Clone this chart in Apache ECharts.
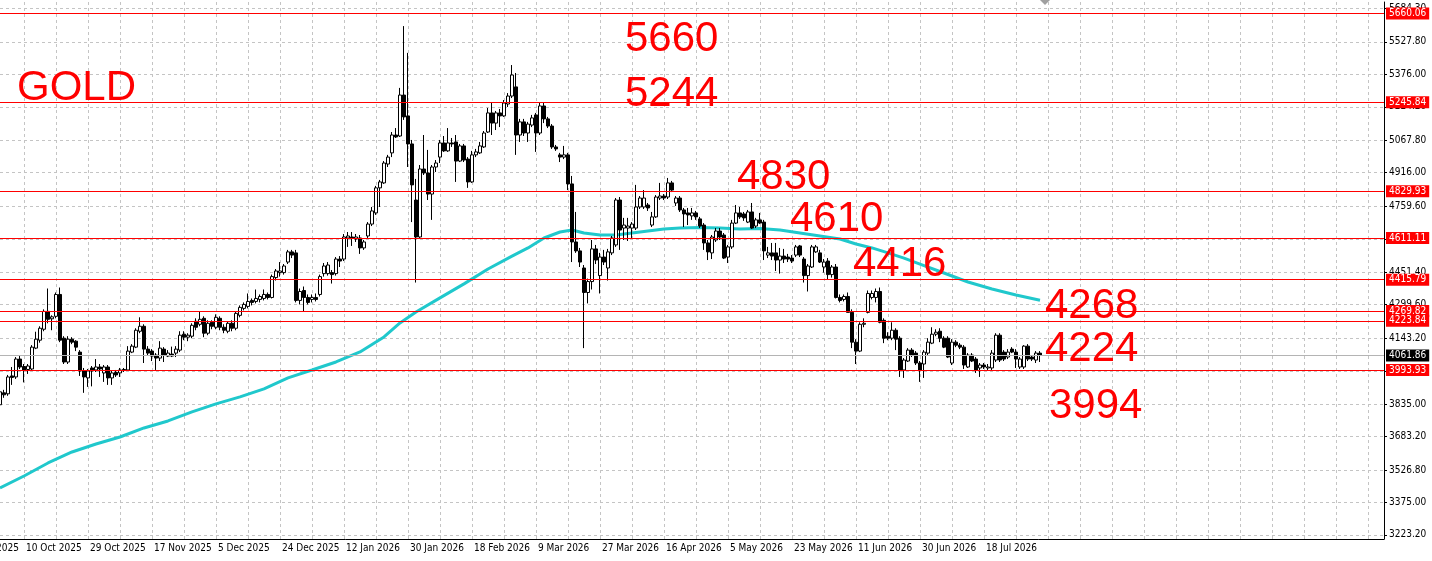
<!DOCTYPE html>
<html>
<head>
<meta charset="utf-8">
<script src="https://cdn.jsdelivr.net/npm/echarts@6/dist/echarts.min.js"></script>
<style>
html,body{margin:0;padding:0;background:#fff;}
#chart{width:1432px;height:561px;}
</style>
</head>
<body>
<div id="chart"></div>
<script>
// ---- data (daily bars, index 0 = first visible bar) ----
const opens = [
3831.5,3887.2,3882.6,3966.2,3961.5,4045.1,4010.3,3996.4,3998.7,4096.2,
4133.3,4184.4,4268.0,4233.2,4244.8,4347.0,4142.6,4031.2,4138.0,4128.7,
4077.6,3989.4,3956.9,4003.4,3994.0,4008.0,3980.1,4008.0,3956.9,3982.4,
3980.1,3996.4,3994.0,4077.6,4100.8,4175.1,4198.3,4091.5,4082.3,4063.7,
4049.7,4091.5,4059.0,4068.3,4072.9,4086.9,4161.2,4147.3,4151.9,4221.6,
4207.6,4235.5,4165.9,4216.9,4193.7,4235.5,4193.7,4175.1,4212.3,4189.1,
4249.4,4281.9,4291.2,4319.1,4314.4,4323.7,4328.4,4347.0,4333.0,4425.9,
4449.1,4449.1,4498.5,4546.0,4541.3,4319.1,4365.5,4333.0,4323.7,4333.0,
4347.0,4444.4,4444.4,4449.1,4444.4,4512.5,4512.5,4611.0,4615.6,4606.3,
4611.0,4564.5,4620.3,4676.0,4728.1,4845.2,4868.4,4956.6,5008.7,5092.3,
5087.6,5279.0,5181.5,5050.5,4788.4,4615.6,4933.4,4914.8,4816.3,4942.7,
4989.1,5055.1,5018.0,5055.1,5059.8,4970.5,5041.2,4979.8,4873.0,4999.4,
5008.7,5036.5,5106.2,5195.5,5148.0,5195.5,5181.5,5237.2,5274.4,5317.2,
5092.3,5153.6,5101.6,5138.7,5186.2,5101.6,5228.0,5167.6,5134.1,5036.5,
4999.4,4989.1,4999.4,4863.7,4592.4,4550.6,4470.7,4356.2,4407.3,4559.9,
4435.2,4521.8,4470.7,4541.3,4578.4,4788.4,4657.4,4657.4,4657.4,4657.4,
4755.9,4755.9,4765.2,4671.4,4709.5,4797.7,4807.0,4802.4,4868.4,4774.5,
4797.7,4742.0,4728.1,4714.1,4728.1,4700.2,4671.4,4587.8,4541.3,4601.7,
4643.5,4624.9,4521.8,4569.2,4680.6,4728.1,4723.4,4685.3,4732.7,4666.7,
4695.6,4685.3,4531.0,4541.3,4541.3,4507.8,4526.4,4521.8,4517.1,4531.0,
4573.8,4512.5,4435.2,4475.3,4546.0,4541.3,4475.3,4503.2,4439.8,4475.3,
4333.0,4323.7,4337.6,4263.4,4124.1,4082.3,4207.6,4263.4,4333.0,4333.0,
4360.9,4226.2,4151.9,4142.6,4179.8,4142.6,3994.0,4035.8,4086.9,4072.9,
4026.6,4021.9,4072.9,4119.4,4161.2,4175.1,4142.6,4142.6,4026.6,4124.1,
4110.1,4100.8,4008.0,4063.7,4045.1,4003.4,4017.2,4003.4,4003.4,4040.5,
4156.6,4077.6,4054.4,4091.5,4077.6,4008.0,4008.0,4105.5,4054.4,4040.5,
4072.9];
const closes = [
3891.9,3877.9,3961.5,3959.2,4045.1,4008.0,3991.7,4012.6,4100.8,4138.0,
4189.1,4268.0,4230.9,4242.5,4347.0,4133.3,4031.2,4138.0,4124.1,4100.8,
3989.4,3961.5,3989.4,3989.4,4008.0,3998.7,4008.0,3956.9,3980.1,3970.8,
3994.0,3991.7,4082.3,4105.5,4179.8,4198.3,4091.5,4072.9,4059.0,4049.7,
4096.2,4063.7,4072.9,4059.0,4091.5,4156.6,4147.3,4156.6,4202.9,4193.7,
4230.9,4165.9,4212.3,4198.3,4240.2,4193.7,4179.8,4212.3,4189.1,4258.7,
4286.6,4300.5,4314.4,4309.8,4328.4,4337.6,4347.0,4333.0,4430.5,4456.7,
4456.7,4480.0,4546.0,4531.0,4319.1,4360.9,4333.0,4309.8,4333.0,4323.7,
4430.5,4480.0,4484.6,4439.8,4512.5,4503.2,4615.6,4620.3,4611.0,4615.6,
4564.5,4592.4,4676.0,4737.4,4845.2,4873.0,4961.3,4989.1,5092.3,5083.0,
5279.0,5176.9,5050.5,4859.1,4615.6,4933.4,4914.8,4816.3,4942.7,4961.3,
5055.1,5018.0,5055.1,5050.5,4970.5,5041.2,4975.2,4873.0,4999.4,5013.3,
5041.2,5101.6,5195.5,5148.0,5195.5,5181.5,5241.9,5274.4,5372.9,5092.3,
5153.6,5101.6,5143.3,5172.2,5101.6,5228.0,5167.6,5134.1,5036.5,5027.3,
4989.1,4999.4,4863.7,4592.4,4550.6,4498.5,4356.2,4407.3,4559.9,4507.8,
4521.8,4498.5,4546.0,4611.0,4788.4,4648.1,4671.4,4666.7,4676.0,4755.9,
4797.7,4797.7,4751.3,4709.5,4802.4,4807.0,4797.7,4868.4,4834.9,4797.7,
4742.0,4723.4,4718.8,4728.1,4709.5,4666.7,4587.8,4546.0,4615.6,4643.5,
4615.6,4517.1,4569.2,4680.6,4728.1,4709.5,4704.9,4732.7,4657.4,4695.6,
4680.6,4550.6,4541.3,4526.4,4507.8,4526.4,4512.5,4512.5,4503.2,4569.2,
4531.0,4435.2,4480.0,4569.2,4569.2,4498.5,4498.5,4439.8,4475.3,4333.0,
4319.1,4337.6,4263.4,4124.1,4082.3,4207.6,4212.3,4351.6,4351.6,4360.9,
4216.9,4142.6,4142.6,4179.8,4138.0,3994.0,4040.5,4086.9,4063.7,4026.6,
3994.0,4077.6,4124.1,4161.2,4170.5,4142.6,4100.8,4054.4,4124.1,4110.1,
4100.8,4017.2,4063.7,4035.8,3994.0,4017.2,4008.0,4008.0,4072.9,4156.6,
4040.5,4045.1,4077.6,4077.6,4045.1,4045.1,4105.5,4045.1,4045.1,4072.9,
4061.86];
const lows = [
3817.6,3864.0,3873.3,3924.4,3952.2,3998.7,3936.0,3975.5,3989.4,4091.5,
4121.7,4175.1,4212.3,4179.8,4235.5,4124.1,4021.9,4021.9,4114.8,4082.3,
3966.2,3887.2,3915.1,3917.4,3984.7,3961.5,3938.3,3924.4,3924.4,3961.5,
3961.5,3984.7,3989.4,4072.9,4096.2,4165.9,4026.6,4063.7,4035.8,3994.0,
4035.8,4031.2,4054.4,4054.4,4054.4,4077.6,4133.3,4128.7,4142.6,4179.8,
4198.3,4147.3,4156.6,4184.4,4184.4,4179.8,4165.9,4165.9,4175.1,4179.8,
4240.2,4272.6,4281.9,4295.9,4305.2,4309.8,4319.1,4323.7,4328.4,4412.0,
4430.5,4439.8,4489.2,4517.1,4309.8,4300.5,4268.0,4300.5,4309.8,4314.4,
4337.6,4430.5,4435.2,4398.0,4435.2,4475.3,4503.2,4569.2,4573.8,4592.4,
4536.6,4555.3,4611.0,4666.7,4718.8,4755.9,4863.7,4942.7,4989.1,5078.4,
5083.0,5162.9,4942.7,4685.3,4402.7,4611.0,4905.5,4788.4,4695.6,4919.5,
4961.3,5013.3,5013.3,5036.5,4873.0,4965.9,4965.9,4845.2,4868.4,4989.1,
5004.0,5031.9,5101.6,5092.3,5115.5,5129.4,5176.9,5223.3,5265.1,4999.4,
5059.8,5087.6,5059.8,5129.4,5013.3,5092.3,5148.0,5124.8,5027.3,5018.0,
4965.9,4979.8,4834.9,4498.5,4541.3,4475.3,4096.2,4305.2,4370.2,4489.2,
4351.6,4484.6,4412.0,4531.0,4569.2,4555.3,4601.7,4597.0,4611.0,4648.1,
4746.6,4746.6,4737.4,4662.1,4704.9,4788.4,4788.4,4793.1,4825.6,4760.6,
4732.7,4662.1,4671.4,4695.6,4695.6,4657.4,4555.3,4507.8,4512.5,4592.4,
4601.7,4512.5,4493.9,4559.9,4676.0,4700.2,4690.9,4680.6,4652.8,4657.4,
4676.0,4507.8,4517.1,4507.8,4456.7,4444.4,4493.9,4498.5,4493.9,4521.8,
4521.8,4402.7,4360.9,4470.7,4541.3,4493.9,4449.1,4416.6,4425.9,4328.4,
4309.8,4314.4,4263.4,4096.2,4021.9,4077.6,4193.7,4258.7,4323.7,4309.8,
4212.3,4119.4,4133.3,4133.3,4086.9,3961.5,3956.9,4031.2,4054.4,4017.2,
3938.3,3956.9,4063.7,4114.8,4151.9,4124.1,4096.2,4049.7,4017.2,4100.8,
4091.5,3998.7,4003.4,4031.2,3980.1,3961.5,3998.7,3994.0,3994.0,4031.2,
4031.2,4035.8,4045.1,4072.9,4003.4,3998.7,3998.7,4035.8,4035.8,4026.6,
4031.2];
const highs = [
3910.4,3901.2,3970.8,4008.0,4054.4,4059.0,4021.9,4021.9,4110.1,4172.8,
4198.3,4277.3,4374.8,4249.4,4356.2,4379.4,4151.9,4151.9,4147.3,4133.3,
4086.9,4003.4,3998.7,4012.6,4045.1,4021.9,4017.2,4017.2,3989.4,3994.0,
4003.4,4003.4,4105.5,4114.8,4189.1,4240.2,4207.6,4105.5,4091.5,4072.9,
4128.7,4100.8,4086.9,4103.2,4105.5,4175.1,4175.1,4165.9,4212.3,4235.5,
4268.0,4244.8,4226.2,4226.2,4254.1,4244.8,4207.6,4221.6,4226.2,4268.0,
4295.9,4309.8,4351.6,4328.4,4370.2,4347.0,4370.2,4356.2,4439.8,4466.0,
4498.5,4489.2,4555.3,4555.3,4555.3,4374.8,4384.1,4347.0,4347.0,4351.6,
4439.8,4493.9,4498.5,4461.4,4521.8,4526.4,4629.5,4638.9,4638.9,4629.5,
4624.9,4601.7,4685.3,4755.9,4854.5,4882.3,4970.5,4999.4,5106.2,5124.8,
5312.5,5601.4,5476.1,5069.1,4886.9,4952.0,5092.3,5022.6,4952.0,4975.2,
5069.1,5087.6,5124.8,5078.4,5092.3,5050.5,5050.5,4989.1,5018.0,5027.3,
5059.8,5110.9,5218.6,5246.5,5204.7,5214.0,5255.8,5288.3,5419.3,5382.2,
5167.6,5167.6,5153.6,5186.2,5195.5,5241.9,5241.9,5176.9,5143.3,5045.8,
5008.7,5041.2,5008.7,4900.9,4732.7,4564.5,4484.6,4421.2,4601.7,4578.4,
4541.3,4555.3,4559.9,4620.3,4797.7,4802.4,4704.9,4704.9,4685.3,4859.1,
4807.0,4834.9,4774.5,4732.7,4811.6,4868.4,4816.3,4891.6,4877.7,4807.0,
4807.0,4751.3,4751.3,4751.3,4737.4,4709.5,4680.6,4601.7,4624.9,4657.4,
4657.4,4634.2,4578.4,4695.6,4765.2,4755.9,4732.7,4742.0,4774.5,4704.9,
4728.1,4695.6,4569.2,4587.8,4587.8,4564.5,4559.9,4536.6,4531.0,4578.4,
4578.4,4521.8,4489.2,4578.4,4578.4,4555.3,4512.5,4517.1,4484.6,4489.2,
4347.0,4347.0,4356.2,4277.3,4138.0,4216.9,4235.5,4365.5,4365.5,4374.8,
4379.4,4235.5,4170.5,4216.9,4189.1,4151.9,4049.7,4096.2,4096.2,4082.3,
4035.8,4086.9,4142.6,4193.7,4184.4,4189.1,4151.9,4151.9,4138.0,4133.3,
4119.4,4110.1,4072.9,4072.9,4054.4,4026.6,4026.6,4021.9,4086.9,4165.9,
4165.9,4086.9,4091.5,4100.8,4091.5,4054.4,4110.1,4114.8,4063.7,4082.3,
4082.3];

// moving average (cyan) read at sample bars
const maBars = [0,6,12,18,24,30,36,42,48,54,60,66,72,78,84,90,96,100,104,110,116,122,128,132,136,140,143,146,150,154,158,162,166,170,175,180,185,190,195,200,205,210,214,218,222,226,230,236,242,248,254,260];
const maValues = [3442.5,3498.6,3559.4,3610.8,3648.1,3680.9,3723.0,3755.8,3797.9,3835.5,3868.2,3905.6,3956.9,3994.0,4031.4,4078.2,4148.3,4213.7,4265.2,4330.9,4396.5,4466.0,4526.4,4564.5,4611.0,4638.9,4648.1,4634.2,4624.9,4624.9,4634.2,4643.5,4652.8,4657.4,4659.7,4657.4,4652.8,4655.1,4648.1,4634.2,4620.3,4606.3,4583.1,4564.5,4541.3,4517.1,4489.2,4447.3,4405.3,4372.6,4344.3,4320.0];

// horizontal price levels (red) and current bid
const levels = [5660.06, 5245.84, 4829.93, 4611.11, 4415.79, 4269.82, 4223.84, 3993.93];
const bid = 4061.86;

// price scale tick labels
const yTickValues = [3223.2,3375.0,3526.8,3683.2,3835.0,3989.2,4143.2,4299.6,4451.4,4603.6,4759.6,4916.0,5067.8,5224.2,5376.0,5527.8,5684.3];

// time scale: labels every 16 bars, grid every 8 bars
const timeLabelBars = [-10,6,22,38,54,70,86,102,118,134,150,166,182,198,214,230,246];
const timeLabels = ['22 Sep 2025','10 Oct 2025','29 Oct 2025','17 Nov 2025','5 Dec 2025','24 Dec 2025','12 Jan 2026','30 Jan 2026','18 Feb 2026','9 Mar 2026','27 Mar 2026','16 Apr 2026','5 May 2026','23 May 2026','11 Jun 2026','30 Jun 2026','18 Jul 2026'];
const gridBars = [];
for (let b = 6; b <= 342; b += 8) gridBars.push(b);

// chart annotations (text objects)
const notes = [
  {text:'GOLD', x:17, y:67},
  {text:'5660', x:625, y:18},
  {text:'5244', x:625, y:73},
  {text:'4830', x:737, y:156},
  {text:'4610', x:790, y:198},
  {text:'4416', x:853, y:243},
  {text:'4268', x:1045, y:285},
  {text:'4224', x:1045, y:328},
  {text:'3994', x:1049, y:385}
];

// ---- fonts: use a narrow sans for the scales when one is installed ----
function hasFont(name) {
  const c = document.createElement('canvas').getContext('2d');
  c.font = '20px monospace';
  const a = c.measureText('10 Oct 2025 4611.11').width;
  c.font = '20px "' + name + '", monospace';
  const b = c.measureText('10 Oct 2025 4611.11').width;
  return Math.abs(a - b) > 0.5;
}
const FONT = 'Liberation Sans, Arial, sans-serif';
const narrowName = ['Liberation Sans Narrow', 'DejaVu Sans Condensed', 'Roboto Condensed', 'Arial Narrow'].find(hasFont);
const SCALE_FONT = narrowName ? '"' + narrowName + '", Liberation Sans, sans-serif' : FONT;
const SCALE_SIZE = narrowName ? (narrowName === 'DejaVu Sans Condensed' ? 10 : 11) : 10;
const BIG = '42px ' + FONT;

// ---- build ----
const candleData = opens.map((o, i) => [i, o, closes[i], lows[i], highs[i]]);
const maData = maBars.map((b, i) => [b, maValues[i]]);
const labelMap = {};
timeLabelBars.forEach((b, i) => { labelMap[b] = timeLabels[i]; });

const chart = echarts.init(document.getElementById('chart'), null, {renderer: 'canvas'});

const levelLines = levels.map(v => ({
  yAxis: v,
  label: {formatter: v.toFixed(2), backgroundColor: '#ff0000'}
}));
levelLines.push({
  yAxis: bid,
  lineStyle: {color: '#b4b4b4', width: 1, type: 'solid'},
  label: {formatter: bid.toFixed(2), backgroundColor: '#000000'}
});

function buildGraphic(extra) {
  return [
    {type: 'polygon', shape: {points: [[1040, 0], [1050, 0], [1045, 5]]}, style: {fill: '#a0a0a0'}, z: 100}
  ].concat(notes.map(n => ({
    type: 'text', x: n.x, y: n.y, z: 100,
    style: {text: n.text, fill: '#ff0000', font: BIG, verticalAlign: 'top', align: 'left'}
  }))).concat(extra || []);
}

chart.setOption({
  animation: false,
  backgroundColor: '#ffffff',
  grid: {left: 0, right: 48, top: 2, bottom: 22, containLabel: false},
  xAxis: {
    type: 'value', min: 0, max: 346,
    axisLine: {show: true, onZero: false, lineStyle: {color: '#000', width: 1}},
    axisTick: {show: false, customValues: gridBars},
    axisLabel: {show: true, customValues: timeLabelBars.filter(b => b >= 0), formatter: v => labelMap[v] || '',
      align: 'left', margin: 4, padding: [0, 0, 0, 2], color: '#000', fontFamily: SCALE_FONT, fontSize: SCALE_SIZE,
      showMinLabel: true, showMaxLabel: true, hideOverlap: false},
    splitLine: {show: true, lineStyle: {color: '#c4c4c4', type: [3, 3], width: 1}}
  },
  yAxis: {
    type: 'value', position: 'right', min: 3204.02, max: 5713.96, scale: true,
    axisLine: {show: true, onZero: false, lineStyle: {color: '#000', width: 1}},
    axisTick: {show: true, length: 3, customValues: yTickValues, lineStyle: {color: '#000'}},
    axisLabel: {show: true, customValues: yTickValues, formatter: v => v.toFixed(2),
      margin: 5, color: '#000', fontFamily: SCALE_FONT, fontSize: SCALE_SIZE},
    splitLine: {show: true, lineStyle: {color: '#c4c4c4', type: [3, 3], width: 1}}
  },
  series: [
    {
      type: 'line', data: maData, showSymbol: false, symbol: 'none', z: 3,
      lineStyle: {color: '#20c8cc', width: 3}, silent: true
    },
    {
      type: 'candlestick', data: candleData, barWidth: 3, z: 4,
      encode: {x: 0, y: [1, 2, 3, 4]},
      itemStyle: {color: '#ffffff', color0: '#000000', borderColor: '#000000', borderColor0: '#000000', borderColorDoji: '#000000', borderWidth: 1},
      markLine: {
        silent: true, symbol: ['none', 'none'], animation: false, precision: 2,
        lineStyle: {color: '#ff0000', width: 1, type: 'solid'},
        label: {show: true, position: 'end', distance: 2, color: '#ffffff', padding: [1, 3, 0, 3],
          lineHeight: 11, fontFamily: SCALE_FONT, fontSize: SCALE_SIZE},
        data: levelLines
      }
    }
  ],
  graphic: buildGraphic()
});

// partially visible first time label (its bar lies left of the visible range)
const firstX = chart.convertToPixel({xAxisIndex: 0}, timeLabelBars[0]);
const axisY = chart.convertToPixel({yAxisIndex: 0}, 3204.02);
chart.setOption({
  graphic: buildGraphic([{
    type: 'text', x: firstX + 2, y: axisY + 4, z: 100,
    style: {text: timeLabels[0], fill: '#000', font: SCALE_SIZE + 'px ' + SCALE_FONT, verticalAlign: 'top', align: 'left'}
  }])
});
</script>
</body>
</html>
